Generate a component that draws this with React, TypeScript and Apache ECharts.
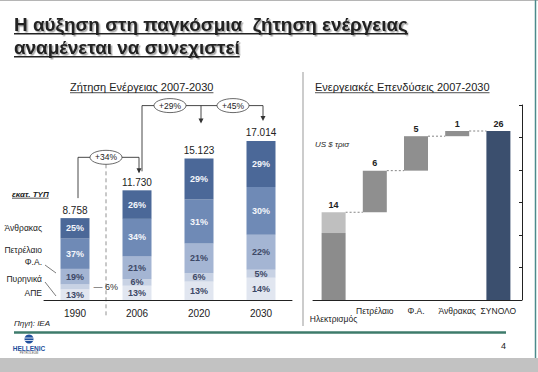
import React, { useEffect, useRef } from 'react';
import * as echarts from 'echarts';

// ---- Left chart: world energy demand (Mtoe) ----
const years = ['1990', '2006', '2020', '2030'];
const totals = [8758, 11730, 15123, 17014];
const fuels = ['ΑΠΕ', 'Πυρηνικά', 'Φ.Α.', 'Πετρέλαιο', 'Άνθρακας'];
const shareApe = [13, 13, 13, 14];
const shareNuclear = [6, 6, 6, 5];
const shareGas = [19, 21, 21, 22];
const shareOil = [37, 34, 31, 30];
const shareCoal = [25, 26, 29, 29];
const growthLabels = ['+34%', '+29%', '+45%'];

// ---- Right chart: energy investments (US$ trillion) ----
const invCategories = ['Ηλεκτρισμός', 'Πετρέλαιο', 'Φ.Α.', 'Άνθρακας', 'ΣΥΝΟΛΟ'];
const elecParts = [10.3, 3.2];
const otherSteps = [6.4, 5.3, 0.8];
const invTotal = 26;

const FONT = 'Liberation Sans';
const fuelColors = ['#e1e6f0', '#c8d2e4', '#a4b5d3', '#6f8ab6', '#4b6898'];
const fuelLabelColors = ['#3d4866', '#3d4866', '#3d4866', '#f4f6fb', '#f4f6fb'];

const fmtThousands = (n: number) => String(n).replace(/\B(?=(\d{3})+(?!\d))/g, '.');

function measure(text: string, font: string): number {
  const c = document.createElement('canvas').getContext('2d')!;
  c.font = font;
  return c.measureText(text).width;
}

function buildOption(): any {
  const shares = [shareApe, shareNuclear, shareGas, shareOil, shareCoal];
  const leftSeries: any[] = shares.map((arr, k) => ({
    type: 'bar',
    name: fuels[k],
    stack: 'demand',
    xAxisIndex: 0,
    yAxisIndex: 0,
    barWidth: 29,
    itemStyle: { color: fuelColors[k] },
    label: {
      show: true,
      position: 'inside',
      fontFamily: FONT,
      fontSize: 9,
      fontWeight: 'bold',
      color: fuelLabelColors[k],
      formatter: (p: any) => arr[p.dataIndex] + '%',
    },
    data: totals.map((t, i) => {
      const v = (t * arr[i]) / 100;
      if (k === 1 && i === 0) {
        return {
          value: v,
          label: { position: 'right', distance: 4, color: '#333', fontWeight: 'normal', formatter: '— ' + arr[i] + '%' },
        };
      }
      return v;
    }),
  }));

  const elecTotal = elecParts[0] + elecParts[1];
  const steps = [elecTotal, ...otherSteps];
  const cum: number[] = [];
  let s = 0;
  steps.forEach((v) => { cum.push(s); s += v; });
  const blank = '-';
  const wfCommon = { type: 'bar', stack: 'inv', xAxisIndex: 1, yAxisIndex: 1, barWidth: 24 };
  const wfLabel = { show: true, position: 'top', distance: 3, fontFamily: FONT, fontSize: 9, fontWeight: 'bold', color: '#222' };
  const rightSeries: any[] = [
    { ...wfCommon, silent: true, itemStyle: { color: 'rgba(0,0,0,0)' }, data: [0, cum[1], cum[2], cum[3], 0] },
    { ...wfCommon, itemStyle: { color: '#8c8c8c' }, data: [elecParts[0], blank, blank, blank, blank] },
    {
      ...wfCommon,
      itemStyle: { color: '#bfbfbf' },
      label: { ...wfLabel, formatter: () => String(Math.round(elecTotal)) },
      data: [elecParts[1], blank, blank, blank, blank],
    },
    {
      ...wfCommon,
      itemStyle: { color: '#8f8f8f' },
      label: { ...wfLabel, formatter: (p: any) => String(Math.round(p.value)) },
      data: [blank, otherSteps[0], otherSteps[1], otherSteps[2], blank],
    },
    {
      ...wfCommon,
      itemStyle: { color: '#3b4f6e' },
      label: { ...wfLabel, formatter: (p: any) => String(Math.round(p.value)) },
      data: [blank, blank, blank, blank, invTotal],
    },
  ];

  return {
    animation: false,
    backgroundColor: '#ffffff',
    textStyle: { fontFamily: FONT },
    grid: [
      { left: 44, top: 113, width: 248, height: 187 },
      { left: 313, top: 105, width: 206, height: 195 },
    ],
    xAxis: [
      {
        type: 'category',
        gridIndex: 0,
        data: years,
        axisLine: { lineStyle: { color: '#222', width: 1 } },
        axisTick: { show: false },
        axisLabel: { fontFamily: FONT, fontSize: 10, color: '#222', margin: 8 },
      },
      {
        type: 'category',
        gridIndex: 1,
        data: invCategories.map((c, i) =>
          i === 0 ? { value: c, textStyle: { padding: [8, 0, 0, 0] } } : c
        ),
        axisLine: { lineStyle: { color: '#222', width: 1 } },
        axisTick: { show: false },
        axisLabel: { fontFamily: FONT, fontSize: 8.5, color: '#222', margin: 6, interval: 0 },
      },
    ],
    yAxis: [
      { type: 'value', gridIndex: 0, min: 0, max: 20000, show: false },
      {
        type: 'value',
        gridIndex: 1,
        position: 'right',
        offset: 3,
        min: 0,
        max: 30,
        interval: 5,
        axisLine: { show: true, lineStyle: { color: '#222', width: 1 } },
        axisTick: { show: true, inside: true, length: 3, lineStyle: { color: '#222' } },
        axisLabel: { show: false },
        splitLine: { show: false },
      },
    ],
    series: [...leftSeries, ...rightSeries],
  };
}

function buildGraphics(chart: any): any[] {
  const g: any[] = [];
  const px = (x: number, y: number, idx: number) =>
    chart.convertToPixel({ xAxisIndex: idx, yAxisIndex: idx }, [x, y]) as number[];
  const line = (x1: number, y1: number, x2: number, y2: number, color = '#333', w = 1, dash?: number[]) =>
    g.push({ type: 'line', silent: true, shape: { x1, y1, x2, y2 }, style: { stroke: color, lineWidth: w, lineDash: dash } });
  const text = (x: number, y: number, t: string, font: any, align = 'left', vAlign = 'middle') =>
    g.push({ type: 'text', silent: true, x, y, style: { text: t, fontFamily: FONT, align, verticalAlign: vAlign, fill: '#222', ...font } });
  const arrow = (x: number, y: number) =>
    g.push({ type: 'polygon', silent: true, shape: { points: [[x - 2.5, y - 5], [x + 2.5, y - 5], [x, y]] }, style: { fill: '#333' } });
  const underlined = (x: number, y: number, t: string, size: number, weight: string, style: string, extra: any = {}) => {
    text(x, y, t, { fontSize: size, fontWeight: weight, fontStyle: style, ...extra });
    const w = measure(t, `${style} ${weight} ${size}px "${FONT}"`);
    line(x, y + size * 0.52, x + w, y + size * 0.52, extra.fill || '#222', size > 14 ? 1.5 : 0.8);
  };

  // frame
  g.push({ type: 'rect', silent: true, shape: { x: 0, y: 358, width: 538, height: 14 }, style: { fill: '#c2c2c2' } });
  line(0, 0.5, 538, 0.5, '#b5b5b5', 1);
  line(535.5, 0, 535.5, 358, '#4b8b8b', 1.5);
  line(14, 332.5, 506, 332.5, '#3e7b6b', 2.5);
  line(303, 72, 303, 326, '#999', 1);

  // titles
  const shadow = { textShadowColor: 'rgba(0,0,0,0.35)', textShadowOffsetX: 1.5, textShadowOffsetY: 1.5, textShadowBlur: 1.5 };
  underlined(14, 24, 'Η αύξηση στη παγκόσμια  ζήτηση ενέργειας', 18.9, 'bold', 'normal', shadow);
  underlined(14, 47, 'αναμένεται να συνεχιστεί', 18.9, 'bold', 'normal', shadow);
  underlined(70, 87, 'Ζήτηση Ενέργειας 2007-2030', 11, 'normal', 'normal');
  underlined(315, 87, 'Ενεργειακές Επενδύσεις 2007-2030', 11, 'normal', 'normal');
  underlined(12, 194, 'εκατ. ΤΥΠ', 8, 'bold', 'italic');
  text(14, 323, 'Πηγή: IEA', { fontSize: 8, fontStyle: 'italic' });
  text(315, 144, 'US $ τρισ', { fontSize: 8, fontStyle: 'italic' });
  text(506, 346, '4', { fontSize: 9 }, 'right');

  // logo
  g.push({ type: 'circle', silent: true, shape: { cx: 29, cy: 339, r: 4.5 }, style: { fill: '#1f4f9c' } });
  line(24.5, 338, 33.5, 338, '#fff', 0.8);
  line(24.5, 340.5, 33.5, 340.5, '#fff', 0.8);
  text(29, 348, 'HELLENIC', { fontSize: 6.5, fontWeight: 'bold', fill: '#1f4f9c' }, 'center');
  text(29, 353, 'PETROLEUM', { fontSize: 3, fill: '#555' }, 'center');

  // totals above stacked bars (placed through the axis scale)
  totals.forEach((t, i) => {
    const p = px(i, t, 0);
    text(p[0], p[1] - 3, fmtThousands(t), { fontSize: 10 }, 'center', 'bottom');
  });

  // fuel labels beside 1990 bar
  const base = px(0, 0, 0);
  const yAt = (v: number) => px(0, v, 0)[1];
  const s0 = [shareApe[0], shareNuclear[0], shareGas[0], shareOil[0], shareCoal[0]];
  const cumShare = (k: number) => s0.slice(0, k).reduce((a, b) => a + b, 0);
  const midY = (k: number) => (yAt((totals[0] * cumShare(k)) / 100) + yAt((totals[0] * cumShare(k + 1)) / 100)) / 2;
  const lx = 42;
  text(lx, midY(4), fuels[4], { fontSize: 8.5 }, 'right');
  text(lx, midY(3) - 4, fuels[3], { fontSize: 8.5 }, 'right');
  text(lx, base[1] - 38, fuels[2], { fontSize: 8.5 }, 'right');
  text(lx, base[1] - 21, fuels[1], { fontSize: 8.5 }, 'right');
  text(lx, base[1] - 7, fuels[0], { fontSize: 8.5 }, 'right');
  line(45, base[1] - 35, 56, base[1] - 27, '#444', 0.7);
  line(45, base[1] - 18, 56, base[1] - 4, '#444', 0.7);

  // growth annotations
  const t0 = px(0, totals[0], 0);
  const t1 = px(1, totals[1], 0);
  const t2 = px(2, totals[2], 0);
  const t3 = px(3, totals[3], 0);
  const lvl1 = t1[1] - 33;
  const lvl2 = t2[1] - 53;
  const ell = (cx: number, cy: number, label: string) => {
    g.push({ type: 'ellipse', silent: true, shape: { cx, cy, rx: 16, ry: 7 }, style: { fill: '#fff', stroke: '#444', lineWidth: 0.8 } });
    text(cx, cy, label, { fontSize: 8.5 }, 'center');
  };
  const e1x = (t0[0] + t1[0]) / 2;
  line(t0[0] + 3, t0[1] - 20, t0[0] + 3, lvl1, '#333', 0.9);
  line(t0[0] + 3, lvl1, t1[0] + 2, lvl1, '#333', 0.9);
  line(t1[0] + 2, lvl1, t1[0] + 2, t1[1] - 18, '#333', 0.9);
  arrow(t1[0] + 2, t1[1] - 17);
  line(e1x, lvl1 + 7, e1x, base[1] + 18, '#777', 0.8, [4, 3]);
  ell(e1x, lvl1, growthLabels[0]);
  const e2x = (t1[0] + t2[0]) / 2 + 2;
  const e3x = (t2[0] + t3[0]) / 2 + 3;
  line(t1[0] + 5, lvl2, t1[0] + 5, t1[1] - 19, '#333', 0.9);
  line(t1[0] + 5, lvl2, t3[0] + 2, lvl2, '#333', 0.9);
  line(t2[0] + 2, lvl2, t2[0] + 2, t2[1] - 37, '#333', 0.9);
  arrow(t2[0] + 2, t2[1] - 35);
  line(t3[0] + 2, lvl2, t3[0] + 2, t3[1] - 22, '#333', 0.9);
  arrow(t3[0] + 2, t3[1] - 20);
  ell(e2x, lvl2, growthLabels[1]);
  ell(e3x, lvl2, growthLabels[2]);

  // waterfall connectors
  const elecTotal = elecParts[0] + elecParts[1];
  const steps = [elecTotal, ...otherSteps];
  let acc = 0;
  for (let i = 0; i < steps.length; i++) {
    acc += steps[i];
    const a = px(i, acc, 1);
    const b = px(i + 1, acc, 1);
    line(a[0] + 12, a[1], b[0] - 12, b[1], '#666', 0.8, [2, 2]);
  }
  return g;
}

export default function App() {
  const ref = useRef<HTMLDivElement>(null);
  useEffect(() => {
    const el = ref.current!;
    const chart = echarts.init(el, null, { renderer: 'svg' });
    chart.setOption(buildOption());
    chart.setOption({ graphic: buildGraphics(chart) });
    return () => chart.dispose();
  }, []);
  return (
    <div
      ref={ref}
      style={{ position: 'fixed', left: 0, top: 0, width: 538, height: 372, background: '#fff' }}
    />
  );
}
